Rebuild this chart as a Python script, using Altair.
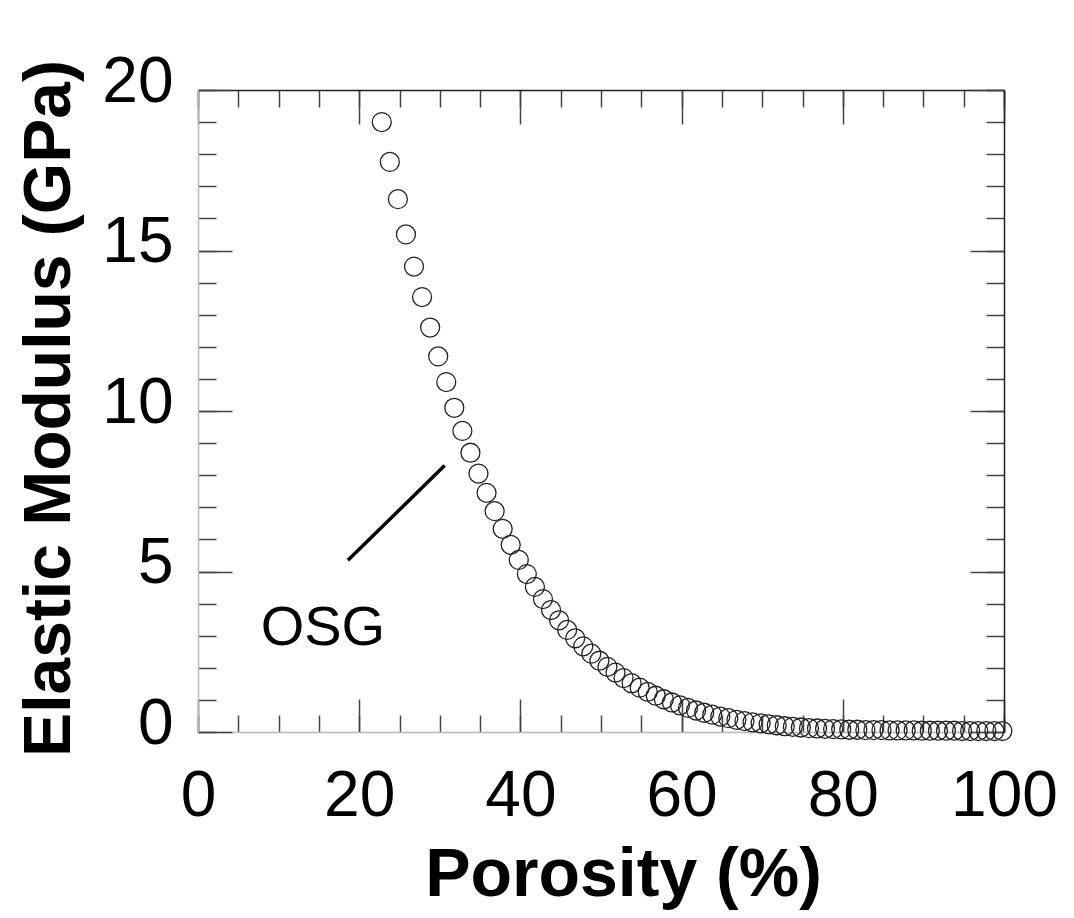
import altair as alt
import pandas as pd

# ---- data ----
porosity = [22.8, 23.8, 24.8, 25.8, 26.8, 27.8, 28.8, 29.8, 30.8, 31.8,
            32.8, 33.8, 34.8, 35.8, 36.8, 37.8, 38.8, 39.8, 40.8, 41.8,
            42.8, 43.8, 44.8, 45.8, 46.8, 47.8, 48.8, 49.8, 50.8, 51.8,
            52.8, 53.8, 54.8, 55.8, 56.8, 57.8, 58.8, 59.8, 60.8, 61.8,
            62.8, 63.8, 64.8, 65.8, 66.8, 67.8, 68.8, 69.8, 70.8, 71.8,
            72.8, 73.8, 74.8, 75.8, 76.8, 77.8, 78.8, 79.8, 80.8, 81.8,
            82.8, 83.8, 84.8, 85.8, 86.8, 87.8, 88.8, 89.8, 90.8, 91.8,
            92.8, 93.8, 94.8, 95.8, 96.8, 97.8, 98.8, 99.8]
modulus = [19.0, 17.76, 16.6, 15.5, 14.5, 13.55, 12.6, 11.7, 10.9, 10.1,
           9.38, 8.7, 8.05, 7.45, 6.88, 6.33, 5.83, 5.36, 4.92, 4.52,
           4.14, 3.80, 3.48, 3.18, 2.92, 2.67, 2.44, 2.22, 2.03, 1.85,
           1.68, 1.52, 1.38, 1.25, 1.13, 1.02, 0.92, 0.83, 0.75, 0.67,
           0.60, 0.54, 0.48, 0.43, 0.38, 0.34, 0.30, 0.27, 0.24, 0.21,
           0.18, 0.16, 0.14, 0.12, 0.11, 0.10, 0.09, 0.08, 0.07, 0.07,
           0.06, 0.06, 0.06, 0.05, 0.05, 0.05, 0.05, 0.04, 0.04, 0.04,
           0.04, 0.04, 0.03, 0.03, 0.03, 0.03, 0.03, 0.03]

x_major = [0, 20, 40, 60, 80, 100]
x_minor = [0, 5, 10, 15, 20, 25, 30, 35, 40, 45, 50, 55, 60, 65, 70, 75,
           80, 85, 90, 95, 100]
y_major = [0, 5, 10, 15, 20]
y_minor = [0, 1, 2, 3, 4, 5, 6, 7, 8, 9, 10, 11, 12, 13, 14, 15, 16, 17,
           18, 19, 20]

osg_line_x = [18.6, 30.6]
osg_line_y = [5.35, 8.3]
osg_label = ["OSG"]
osg_label_x = [15.5]
osg_label_y = [2.71]

x_title = "Porosity (%)"
y_title = "Elastic Modulus (GPa)"

# ---- chart ----
W, H = 806, 642
FONT = "Liberation Sans, Arial, Helvetica, sans-serif"

df = pd.DataFrame({"porosity": porosity, "modulus": modulus})
line_df = pd.DataFrame({"x": [osg_line_x[0]], "x2": [osg_line_x[1]],
                        "y": [osg_line_y[0]], "y2": [osg_line_y[1]]})
text_df = pd.DataFrame({"x": osg_label_x, "y": osg_label_y, "t": osg_label})

xscale = alt.Scale(domain=[0, 100], nice=False, zero=False)
yscale = alt.Scale(domain=[0, 20], nice=False, zero=False)

main = alt.Chart(df).mark_point(
    shape="circle", size=360, filled=False, stroke="#222222",
    strokeWidth=1.3, opacity=1
).encode(
    x=alt.X("porosity:Q", scale=xscale, axis=alt.Axis(
        values=x_major, grid=False, ticks=False, tickSize=0,
        domain=True, domainColor="#b8b8b8", domainWidth=1.5,
        labelFont=FONT, labelFontSize=64, labelColor="black",
        labelPadding=32, labelFlush=False, labelOverlap=False,
        title=x_title, titleFont=FONT, titleFontSize=68,
        titleFontWeight="bold", titleColor="black",
        titleX=425, titleY=163, titleBaseline="alphabetic",
        titleAlign="center", titleLimit=2000)),
    y=alt.Y("modulus:Q", scale=yscale, axis=alt.Axis(
        values=y_major, grid=False, ticks=False, tickSize=0,
        domain=True, domainColor="#b8b8b8", domainWidth=1.5,
        labelFont=FONT, labelFontSize=64, labelColor="black",
        labelPadding=25, labelOffset=-8, labelFlush=False,
        labelOverlap=False,
        title=y_title, titleFont=FONT, titleFontSize=66,
        titleFontWeight="bold", titleColor="black",
        titleX=-129, titleY=318, titleAngle=270,
        titleBaseline="alphabetic", titleAlign="center", titleLimit=2000)),
)


def tick_layer(channel, orient, values, size, domain=False):
    off = -(H if channel == "x" else W)
    props = dict(orient=orient, offset=off, values=values, tickSize=size,
                 ticks=True, labels=False, grid=False, title=None,
                 tickColor="#444444", tickWidth=1.5, domain=domain)
    if domain:
        props.update(domainColor="#222222", domainWidth=1.5)
    ax = alt.Axis(**props)
    base = alt.Chart(df).mark_point(opacity=0)
    if channel == "x":
        return base.encode(
            x=alt.X("porosity:Q", scale=xscale, axis=ax),
            y=alt.Y("modulus:Q", scale=yscale, axis=None))
    return base.encode(
        x=alt.X("porosity:Q", scale=xscale, axis=None),
        y=alt.Y("modulus:Q", scale=yscale, axis=ax))


ticks = [
    tick_layer("x", "top", x_minor, 17),      # bottom edge, pointing up
    tick_layer("x", "top", x_major, 33),
    tick_layer("x", "bottom", x_minor, 17),   # top edge, pointing down
    tick_layer("x", "bottom", x_major, 34, domain=True),
    tick_layer("y", "right", y_minor, 18),    # left edge, pointing right
    tick_layer("y", "right", y_major, 34),
    tick_layer("y", "left", y_minor, 18),     # right edge, pointing left
    tick_layer("y", "left", y_major, 34, domain=True),
]

rule = alt.Chart(line_df).mark_rule(strokeWidth=3.5, color="black").encode(
    x=alt.X("x:Q", scale=xscale, axis=None), x2="x2:Q",
    y=alt.Y("y:Q", scale=yscale, axis=None), y2="y2:Q")

label = alt.Chart(text_df).mark_text(
    font=FONT, fontSize=56, baseline="alphabetic", align="center",
    color="black").encode(
    x=alt.X("x:Q", scale=xscale, axis=None),
    y=alt.Y("y:Q", scale=yscale, axis=None),
    text="t:N")

chart = alt.layer(*ticks, rule, label, main).properties(
    width=W, height=H,
    autosize=alt.AutoSizeParams(type="none"),
    padding={"left": 190, "top": 82, "right": 62, "bottom": 178},
    background="white",
).resolve_axis(x="independent", y="independent").configure_view(
    stroke="transparent")

chart.save("out.html", embed_options={"renderer": "svg", "actions": False})
